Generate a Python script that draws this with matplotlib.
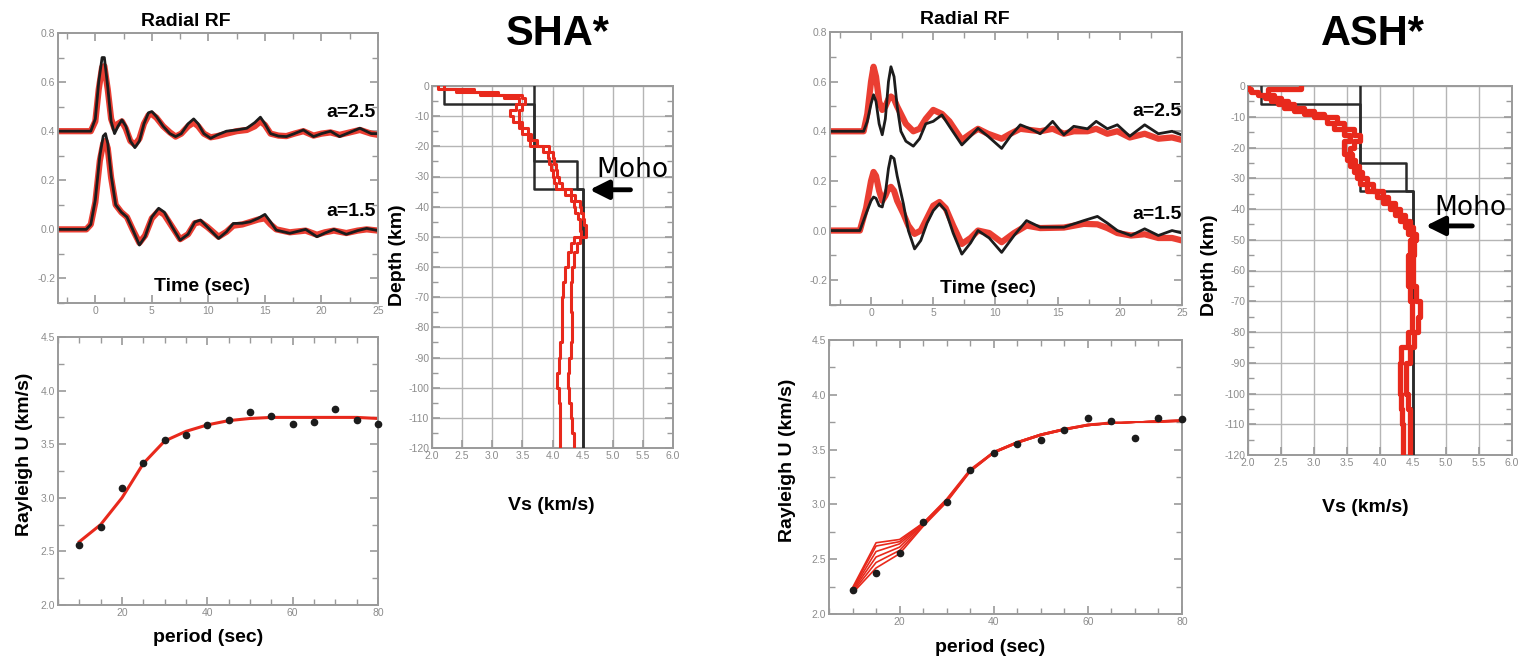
import numpy as np
import matplotlib
matplotlib.use("Agg")
import matplotlib.pyplot as plt
from matplotlib.ticker import MultipleLocator, FormatStrFormatter

plt.rcParams['font.family'] = ['Liberation Sans', 'DejaVu Sans']
plt.rcParams['axes.unicode_minus'] = False

RED = '#e8291c'
BLACK = '#1c1c1c'
GRAY = '#8c8c8c'

# ---------------- receiver functions (time in s, amplitude incl. offset)
sha_t25 = [-3.3, -0.4, 0.0, 0.3, 0.6, 0.8, 1.1, 1.4, 1.7, 2.0, 2.35, 2.7, 3.1, 3.5, 3.9, 4.3,
           4.7, 5.0, 5.4, 6.0, 6.6, 7.1, 7.6, 8.2, 8.7, 9.1, 9.6, 10.2, 10.8, 11.6, 12.5, 13.4,
           14.1, 14.6, 15.0, 15.5, 16.2, 16.9, 17.6, 18.4, 19.3, 20.0, 20.8, 21.6, 22.5, 23.4, 24.4, 25.0]
sha_bk25 = [0.40, 0.40, 0.45, 0.60, 0.70, 0.70, 0.58, 0.44, 0.39, 0.42, 0.446, 0.42, 0.36, 0.333, 0.36, 0.43,
            0.475, 0.48, 0.46, 0.42, 0.39, 0.378, 0.39, 0.43, 0.45, 0.43, 0.39, 0.371, 0.385, 0.40, 0.405, 0.412,
            0.435, 0.457, 0.43, 0.39, 0.38, 0.378, 0.39, 0.405, 0.378, 0.39, 0.40, 0.378, 0.395, 0.412, 0.39, 0.39]
sha_rd25 = [0.40, 0.40, 0.44, 0.57, 0.66, 0.665, 0.57, 0.45, 0.41, 0.43, 0.44, 0.41, 0.36, 0.345, 0.37, 0.43,
            0.465, 0.47, 0.455, 0.42, 0.395, 0.378, 0.39, 0.42, 0.435, 0.42, 0.39, 0.375, 0.38, 0.39, 0.40, 0.405,
            0.42, 0.44, 0.425, 0.39, 0.382, 0.38, 0.39, 0.40, 0.382, 0.39, 0.395, 0.385, 0.395, 0.405, 0.39, 0.385]
sha_t15 = [-3.3, -0.8, -0.4, 0.0, 0.4, 0.7, 0.9, 1.1, 1.4, 1.8, 2.3, 2.8, 3.3, 3.9, 4.4, 5.0,
           5.6, 6.1, 6.8, 7.5, 8.2, 8.8, 9.3, 9.9, 10.9, 11.6, 12.2, 13.0, 13.7, 14.4, 15.0, 15.5,
           16.0, 17.2, 18.6, 19.6, 20.3, 21.1, 22.2, 23.2, 24.0, 25.0]
sha_bk15 = [0.0, 0.0, 0.02, 0.12, 0.30, 0.38, 0.39, 0.35, 0.22, 0.10, 0.07, 0.05, 0.0, -0.064, -0.03, 0.05,
            0.086, 0.07, 0.01, -0.044, -0.02, 0.03, 0.038, 0.01, -0.037, -0.01, 0.024, 0.025, 0.031, 0.045,
            0.061, 0.03, -0.003, -0.016, 0.0, -0.03, -0.015, 0.0, -0.02, -0.005, 0.004, -0.005]
sha_rd15 = [0.0, 0.0, 0.02, 0.11, 0.28, 0.35, 0.36, 0.33, 0.21, 0.10, 0.07, 0.05, 0.0, -0.055, -0.025, 0.045,
            0.075, 0.06, 0.01, -0.04, -0.02, 0.025, 0.03, 0.01, -0.03, -0.01, 0.015, 0.02, 0.03, 0.04,
            0.045, 0.02, 0.0, -0.012, -0.005, -0.022, -0.012, -0.005, -0.015, -0.005, 0.0, -0.005]

ash_t25 = [-3.3, -0.6, -0.3, 0.0, 0.2, 0.4, 0.65, 0.9, 1.15, 1.4, 1.6, 1.85, 2.1, 2.4, 2.8, 3.4,
           3.9, 4.4, 5.0, 5.7, 6.3, 7.3, 8.0, 8.6, 9.4, 10.5, 11.2, 12.0, 12.8, 13.6, 14.6, 15.5,
           16.3, 17.4, 18.1, 19.0, 19.8, 20.8, 22.0, 23.1, 24.2, 25.0]
ash_bk25 = [0.40, 0.40, 0.44, 0.51, 0.547, 0.52, 0.43, 0.386, 0.45, 0.60, 0.66, 0.62, 0.50, 0.40, 0.36, 0.34,
            0.37, 0.43, 0.44, 0.466, 0.42, 0.345, 0.38, 0.412, 0.38, 0.331, 0.38, 0.426, 0.41, 0.39, 0.44, 0.386,
            0.42, 0.41, 0.44, 0.41, 0.426, 0.38, 0.426, 0.39, 0.40, 0.385]
ash_rd25 = [0.40, 0.40, 0.47, 0.60, 0.66, 0.62, 0.52, 0.486, 0.50, 0.53, 0.54, 0.53, 0.50, 0.47, 0.43, 0.40,
            0.41, 0.45, 0.486, 0.47, 0.44, 0.365, 0.39, 0.41, 0.39, 0.37, 0.39, 0.41, 0.405, 0.40, 0.41, 0.39,
            0.40, 0.40, 0.41, 0.39, 0.40, 0.375, 0.39, 0.37, 0.375, 0.365]
ash_t15 = [-3.3, -0.9, -0.4, 0.0, 0.2, 0.4, 0.65, 0.9, 1.15, 1.4, 1.6, 1.85, 2.1, 2.6, 3.0, 3.5,
           4.0, 4.5, 5.0, 5.5, 6.0, 6.6, 7.3, 8.0, 8.6, 9.5, 10.5, 11.5, 12.5, 13.6, 15.5, 17.1,
           18.2, 19.0, 19.8, 20.9, 22.0, 23.1, 24.2, 25.0]
ash_bk15 = [0.0, 0.0, 0.068, 0.12, 0.135, 0.13, 0.10, 0.095, 0.15, 0.25, 0.30, 0.29, 0.22, 0.108, 0.0, -0.074,
            -0.04, 0.03, 0.08, 0.108, 0.08, -0.01, -0.095, -0.05, 0.0, -0.03, -0.088, -0.02, 0.04, 0.0135,
            0.0135, 0.04, 0.057, 0.03, 0.0, -0.02, 0.007, -0.02, 0.0, -0.01]
ash_rd15 = [0.0, 0.0, 0.09, 0.20, 0.236, 0.22, 0.16, 0.12, 0.14, 0.17, 0.176, 0.16, 0.12, 0.068, 0.02, -0.0135,
            0.0, 0.05, 0.10, 0.115, 0.09, 0.02, -0.054, -0.03, 0.0, -0.01, -0.047, -0.01, 0.02, 0.01,
            0.012, 0.027, 0.025, 0.01, -0.01, -0.02, -0.015, -0.03, -0.03, -0.04]

# ---------------- Rayleigh group velocity dispersion
periods = [10, 15, 20, 25, 30, 35, 40, 45, 50, 55, 60, 65, 70, 75, 80]
sha_u_obs = [2.56, 2.73, 3.09, 3.32, 3.54, 3.59, 3.68, 3.73, 3.80, 3.76, 3.69, 3.71, 3.83, 3.73, 3.69]
sha_u_pred = [2.59, 2.75, 3.00, 3.32, 3.53, 3.62, 3.68, 3.72, 3.74, 3.75, 3.75, 3.75, 3.75, 3.75, 3.74]
ash_u_obs = [2.22, 2.37, 2.56, 2.84, 3.02, 3.31, 3.47, 3.55, 3.59, 3.68, 3.79, 3.76, 3.61, 3.79, 3.78]
ash_u_pred = [
    [2.19, 2.42, 2.55, 2.80, 3.02, 3.30, 3.47, 3.56, 3.63, 3.68, 3.72, 3.74, 3.75, 3.75, 3.76],
    [2.20, 2.47, 2.58, 2.81, 3.03, 3.30, 3.47, 3.56, 3.63, 3.68, 3.72, 3.74, 3.75, 3.75, 3.76],
    [2.21, 2.52, 2.61, 2.82, 3.03, 3.31, 3.47, 3.56, 3.63, 3.68, 3.72, 3.74, 3.75, 3.76, 3.76],
    [2.22, 2.57, 2.64, 2.82, 3.04, 3.31, 3.48, 3.57, 3.64, 3.69, 3.72, 3.74, 3.75, 3.76, 3.76],
    [2.23, 2.62, 2.66, 2.83, 3.04, 3.31, 3.48, 3.57, 3.64, 3.69, 3.73, 3.74, 3.75, 3.76, 3.77],
    [2.24, 2.65, 2.68, 2.83, 3.05, 3.32, 3.48, 3.57, 3.64, 3.69, 3.73, 3.75, 3.75, 3.76, 3.77],
]

# ---------------- Vs models (layer tops in km, Vs in km/s), bottom at 120 km
ref_tops = [[0, 6, 34], [0, 25, 34]]
ref_vs = [[2.2, 3.7, 4.5], [3.7, 4.4, 4.5]]

sha_tops = [0, 1, 2, 3, 4, 6, 8, 10, 12, 14, 16, 18, 20, 22, 24, 26, 28, 30, 32, 34, 36, 38, 40,
            42, 44, 46, 48, 50, 52, 55, 60, 65, 70, 75, 80, 85, 90, 95, 100, 105, 110, 115]
sha_vs_lo = [2.1, 2.4, 2.8, 3.2, 3.45, 3.4, 3.3, 3.35, 3.45, 3.5, 3.6, 3.62, 3.85, 3.92, 3.95, 3.98, 4.0, 4.02,
             4.05, 4.2, 4.3, 4.35, 4.38, 4.42, 4.45, 4.45, 4.48, 4.35, 4.3, 4.25, 4.2, 4.17, 4.15, 4.15, 4.15,
             4.13, 4.1, 4.08, 4.1, 4.12, 4.13, 4.13]
sha_vs_hi = [2.2, 2.7, 3.1, 3.5, 3.55, 3.5, 3.45, 3.45, 3.5, 3.6, 3.65, 3.75, 3.95, 4.0, 4.02, 4.05, 4.08, 4.1,
             4.15, 4.3, 4.38, 4.45, 4.48, 4.5, 4.52, 4.55, 4.55, 4.45, 4.4, 4.35, 4.33, 4.3, 4.3, 4.32, 4.33,
             4.3, 4.27, 4.25, 4.28, 4.3, 4.32, 4.35]

ash_tops = [0, 1, 2, 3, 4, 5, 6, 7, 8, 9, 10, 12, 14, 16, 18, 20, 22, 24, 26, 28, 30, 32, 34, 36, 38,
            40, 42, 44, 46, 48, 50, 55, 60, 65, 70, 75, 80, 85, 90, 95, 100, 105, 110, 115]
ash_vs_lo = [2.0, 2.05, 2.15, 2.25, 2.35, 2.45, 2.55, 2.7, 2.85, 3.0, 3.2, 3.3, 3.45, 3.55, 3.45, 3.45, 3.5,
             3.55, 3.6, 3.65, 3.7, 3.8, 3.95, 4.05, 4.15, 4.22, 4.3, 4.38, 4.42, 4.48, 4.45, 4.42, 4.42,
             4.45, 4.48, 4.48, 4.42, 4.32, 4.3, 4.3, 4.32, 4.33, 4.35, 4.35]
ash_vs_hi = [2.8, 2.3, 2.3, 2.4, 2.5, 2.6, 2.7, 2.85, 3.0, 3.15, 3.35, 3.45, 3.6, 3.7, 3.6, 3.55, 3.58,
             3.62, 3.68, 3.72, 3.8, 3.9, 4.05, 4.12, 4.22, 4.3, 4.38, 4.45, 4.5, 4.55, 4.52, 4.5, 4.5,
             4.55, 4.6, 4.58, 4.52, 4.45, 4.4, 4.4, 4.42, 4.45, 4.45, 4.45]

W, H = 1520, 659


def box(l, t, r, b):
    return [l / W, 1 - b / H, (r - l) / W, (b - t) / H]


def ftext(x, y, s, **kw):
    fig.text(x / W, 1 - y / H, s, ha='center', va='center', **kw)


def style(ax):
    for sp in ax.spines.values():
        sp.set_color('#9a9a9a')
        sp.set_linewidth(1.4)
    ax.tick_params(which='both', direction='in', top=True, right=True, colors='#9a9a9a',
                   labelcolor=GRAY, labelsize=7.5, pad=2)
    ax.tick_params(which='major', length=6, width=1.2)
    ax.tick_params(which='minor', length=4, width=1.0)


def step_xy(tops, vs, bottom=120):
    d = np.repeat(np.append(tops, bottom), 2)[1:-1]
    v = np.repeat(vs, 2)
    return v, -d


fig = plt.figure(figsize=(15.2, 6.59), dpi=100)


def rf_panel(rect, t25, bk25, rd25, t15, bk15, rd15, lab25, lab15):
    ax = fig.add_axes(rect)
    ax.plot(t25, rd25, color=RED, lw=4.5, alpha=0.9, solid_joinstyle='round')
    ax.plot(t15, rd15, color=RED, lw=4.5, alpha=0.9, solid_joinstyle='round')
    ax.plot(t25, bk25, color=BLACK, lw=2.0, solid_joinstyle='round')
    ax.plot(t15, bk15, color=BLACK, lw=2.0, solid_joinstyle='round')
    ax.set_xlim(-3.3, 25)
    ax.set_ylim(-0.3, 0.8)
    ax.xaxis.set_major_locator(MultipleLocator(5))
    ax.xaxis.set_minor_locator(MultipleLocator(2.5))
    ax.yaxis.set_major_locator(MultipleLocator(0.2))
    ax.yaxis.set_minor_locator(MultipleLocator(0.1))
    ax.yaxis.set_major_formatter(FormatStrFormatter('%.1f'))
    style(ax)
    ax.text(lab25[0], lab25[1], 'a=2.5', ha='right', va='center', fontsize=14, fontweight='bold')
    ax.text(lab15[0], lab15[1], 'a=1.5', ha='right', va='center', fontsize=14, fontweight='bold')
    ax.text(0.45, 0.06, 'Time (sec)', transform=ax.transAxes, ha='center', va='center',
            fontsize=14, fontweight='bold')
    return ax


def disp_panel(rect, obs, preds):
    ax = fig.add_axes(rect)
    for p in preds:
        ax.plot(periods, p, color=RED, lw=2.2 if len(preds) == 1 else 1.2)
    ax.plot(periods, obs, 'o', color=BLACK, ms=4.5, clip_on=False, zorder=5)
    ax.set_xlim(5, 80)
    ax.set_ylim(2.0, 4.5)
    ax.xaxis.set_major_locator(MultipleLocator(20))
    ax.xaxis.set_minor_locator(MultipleLocator(5))
    ax.yaxis.set_major_locator(MultipleLocator(0.5))
    ax.yaxis.set_minor_locator(MultipleLocator(0.25))
    ax.yaxis.set_major_formatter(FormatStrFormatter('%.1f'))
    style(ax)
    return ax


def vs_panel(rect, tops, lo, hi, lw_red, moho_txt, moho_arrow):
    ax = fig.add_axes(rect)
    for tp, v in zip(ref_tops, ref_vs):
        x, y = step_xy(tp, v)
        ax.plot(x, y, color='#2a2a2a', lw=1.8, zorder=3)
    for v in (lo, hi):
        x, y = step_xy(tops, v)
        ax.plot(x, y, color=RED, lw=lw_red, zorder=4)
    ax.set_xlim(2, 6)
    ax.set_ylim(-120, 0)
    ax.xaxis.set_major_locator(MultipleLocator(0.5))
    ax.xaxis.set_major_formatter(FormatStrFormatter('%.1f'))
    ax.yaxis.set_major_locator(MultipleLocator(10))
    ax.yaxis.set_minor_locator(MultipleLocator(5))
    ax.grid(True, which='major', color='#b5b5b5', lw=1.0)
    style(ax)
    ax.tick_params(axis='x', top=False)
    ax.text(moho_txt[0], moho_txt[1], 'Moho', ha='left', va='center', fontsize=19,
            family='DejaVu Sans', clip_on=False)
    ax.annotate('', xy=(moho_arrow[1], moho_arrow[2]), xytext=(moho_arrow[0], moho_arrow[2]),
                arrowprops=dict(arrowstyle='-|>', lw=3.5, color='black', mutation_scale=28),
                annotation_clip=False)
    return ax


# ---- SHA group
rf_panel(box(58, 33, 378, 303), sha_t25, sha_bk25, sha_rd25, sha_t15, sha_bk15, sha_rd15,
         (24.8, 0.475), (24.8, 0.072))
disp_panel(box(58, 337, 378, 605), sha_u_obs, [sha_u_pred])
vs_panel(box(432, 86, 673, 448), sha_tops, sha_vs_lo, sha_vs_hi, 2.2, (4.72, -27.8), (5.34, 4.57, -34.4))

ftext(186, 22, 'Radial RF', fontsize=14, fontweight='bold')
ftext(25, 454, 'Rayleigh U (km/s)', fontsize=14, fontweight='bold', rotation=90)
ftext(208, 637, 'period (sec)', fontsize=14, fontweight='bold')
ftext(558, 34, 'SHA*', fontsize=30, fontweight='bold')
ftext(398, 255, 'Depth (km)', fontsize=14, fontweight='bold', rotation=90)
ftext(551, 505, 'Vs (km/s)', fontsize=14, fontweight='bold')

# ---- ASH group
rf_panel(box(830, 32, 1182, 305), ash_t25, ash_bk25, ash_rd25, ash_t15, ash_bk15, ash_rd15,
         (25.0, 0.48), (25.0, 0.065))
disp_panel(box(829, 340, 1182, 614), ash_u_obs, ash_u_pred)
vs_panel(box(1248, 86, 1512, 455), ash_tops, ash_vs_lo, ash_vs_hi, 3.8, (4.83, -39.7), (5.44, 4.65, -45.5))

ftext(965, 20, 'Radial RF', fontsize=14, fontweight='bold')
ftext(788, 460, 'Rayleigh U (km/s)', fontsize=14, fontweight='bold', rotation=90)
ftext(990, 648, 'period (sec)', fontsize=14, fontweight='bold')
ftext(1373, 34, 'ASH*', fontsize=30, fontweight='bold')
ftext(1210, 265, 'Depth (km)', fontsize=14, fontweight='bold', rotation=90)
ftext(1365, 507, 'Vs (km/s)', fontsize=14, fontweight='bold')

fig.savefig('out.png', dpi=100)
